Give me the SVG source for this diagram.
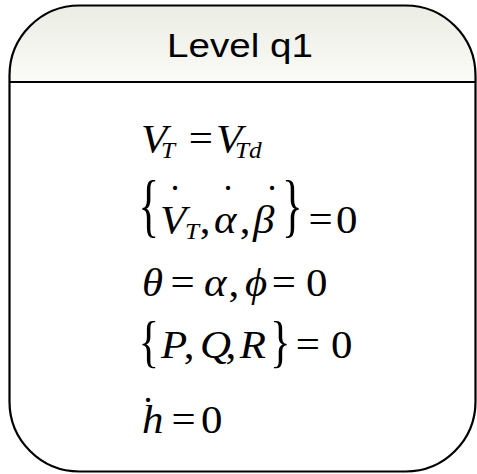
<svg xmlns="http://www.w3.org/2000/svg" width="477" height="474" viewBox="0 0 477 474">
<defs>
<linearGradient id="hdr" x1="0" y1="0" x2="0" y2="1">
<stop offset="0" stop-color="#ebece2"/>
<stop offset="1" stop-color="#fbfbf8"/>
</linearGradient>
<style>
.m{font-family:"Liberation Serif","Times New Roman",serif;font-size:39px;fill:#000}
.i{font-style:italic}
.s{font-size:23px}
.t{font-family:"Liberation Sans",Arial,sans-serif;font-size:33px;fill:#000}
.ol{fill:none;stroke:#000;stroke-width:2.2}
</style>
</defs>
<g id="node-level-q1">
<rect x="9.5" y="5.5" width="466" height="466" rx="70" ry="70" fill="#fff"/>
<path d="M9.5,82 V75.5 A70,70 0 0 1 79.5,5.5 H405.5 A70,70 0 0 1 475.5,75.5 V82 Z" fill="url(#hdr)"/>
<rect class="ol" x="9.5" y="5.5" width="466" height="466" rx="70" ry="70"/>
<line class="ol" x1="9.5" y1="82" x2="475.5" y2="82"/>
<text class="t" transform="translate(240,57) scale(1.17,1)" x="0" y="0" text-anchor="middle">Level q1</text>
<g transform="matrix(1.1 0 0 1 -14.3 0)">
<!-- line 1 -->
<text class="m"><tspan class="i" x="141.2" y="152">V</tspan><tspan class="i s" x="159.4" y="158">T</tspan><tspan x="184.5" y="152">=</tspan><tspan class="i" x="209.4" y="152">V</tspan><tspan class="i s" x="226.6" y="158">Td</tspan></text>
<!-- line 2 -->
<text class="m" transform="translate(0,212.5) scale(1,1.8)"><tspan x="139" y="9.4">{</tspan><tspan x="269.4" y="9.4">}</tspan></text>
<text class="m"><tspan class="i" x="158.5" y="233">V</tspan><tspan class="i s" x="181.2" y="239">T</tspan><tspan x="194.5" y="233">,</tspan><tspan class="i" x="207.5" y="233">α</tspan><tspan x="231" y="233">,</tspan><tspan class="i" x="243" y="233">β</tspan><tspan x="293.5" y="233">=</tspan><tspan x="318.5" y="233">0</tspan></text>
<!-- line 3 -->
<text class="m"><tspan class="i" x="142.1" y="296">θ</tspan><tspan x="168" y="296">=</tspan><tspan class="i" x="198.5" y="296">α</tspan><tspan x="220.8" y="296">,</tspan><tspan class="i" x="235.7" y="296">ϕ</tspan><tspan x="260" y="296">=</tspan><tspan x="291.2" y="296">0</tspan></text>
<!-- line 4 -->
<text class="m" transform="translate(0,347) scale(1,1.47)"><tspan x="139" y="9.4">{</tspan><tspan x="258.5" y="9.4">}</tspan></text>
<text class="m"><tspan class="i" x="159.4" y="358">P</tspan><tspan x="180" y="358">,</tspan><tspan class="i" x="194.8" y="358">Q</tspan><tspan x="218" y="358">,</tspan><tspan class="i" x="231" y="358">R</tspan><tspan x="281.8" y="358">=</tspan><tspan x="313.9" y="358">0</tspan></text>
<!-- line 5 -->
<text class="m"><tspan class="i" x="142.1" y="433">h</tspan><tspan x="169" y="433">=</tspan><tspan x="195.7" y="433">0</tspan></text>
</g>
<text class="m"><tspan x="168.5" y="212">˙</tspan><tspan x="221.5" y="212">˙</tspan><tspan x="265.5" y="212">˙</tspan><tspan x="141.5" y="424">˙</tspan></text>
</g>
<g id="connectors"/>
</svg>
